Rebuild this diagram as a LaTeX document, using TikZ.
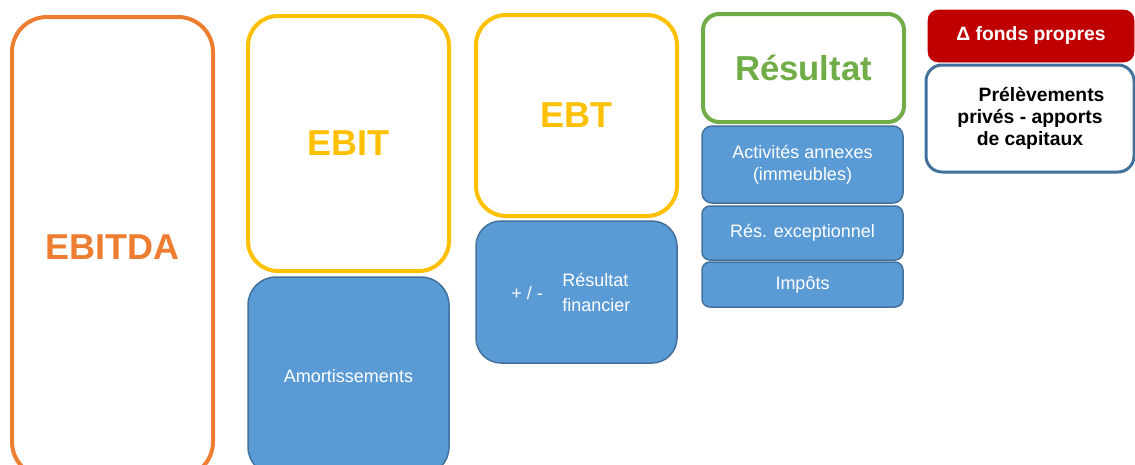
\documentclass[tikz,border=0pt]{standalone}
\usepackage{fontspec}
\setmainfont{Liberation Sans}
\newdimen\px \px=0.75pt
\definecolor{orangeline}{HTML}{ED7D31}
\definecolor{yellowline}{HTML}{FFC000}
\definecolor{greenline}{HTML}{70AD47}
\definecolor{bluefill}{HTML}{5B9BD5}
\definecolor{blueline}{HTML}{41719C}
\definecolor{redfill}{HTML}{C00000}

\begin{document}
\begin{tikzpicture}[x=0.75pt,y=-0.75pt,
    bigbox/.style={draw, line width=4\px, fill=white, inner sep=0pt,
      font=\fontsize{27}{30}\selectfont\bfseries},
    bluebox/.style={draw=blueline, line width=1.5\px, fill=bluefill, text=white,
      inner sep=0pt, font=\fontsize{13.5}{16.5}\selectfont},
    boxsize/.style 2 args={minimum width=#1\px, minimum height=#2\px}]
    %%%%% START %%%%%

    \useasboundingbox (0,0) rectangle (1135,464);
    \clip (0,0) rectangle (1135,464);

    % EBITDA
    \node[bigbox, draw=orangeline, text=orangeline, rounded corners=35\px,
      boxsize={201}{460}] (ebitda) at (112.5,247) {EBITDA};

    % EBIT
    \node[bigbox, draw=yellowline, text=yellowline, rounded corners=30\px,
      boxsize={201}{255}] (ebit) at (348.5,143.5) {EBIT};
    \node[bluebox, rounded corners=28\px, boxsize={201}{198}] (amort) at (348.5,376) {Amortissements};

    % EBT
    \node[bigbox, draw=yellowline, text=yellowline, rounded corners=30\px,
      boxsize={201}{201}] (ebt) at (576.5,115.5) {EBT};
    \node[bluebox, rounded corners=25\px, boxsize={201}{142}] (fin) at (576.5,292) {};
    \node[text=white, font=\fontsize{13.5}{16.5}\selectfont] (finsign) at (527,293) {+ / -};
    \node[anchor=west, text=white, align=left, inner sep=0pt,
      font=\fontsize{13.5}{18.75}\selectfont] (fintext) at (562,292) {Résultat\\financier};

    % Resultat
    \node[bigbox, draw=greenline, text=greenline, rounded corners=16\px,
      font=\fontsize{26}{30}\selectfont\bfseries, boxsize={201}{108}] (res) at (803.5,68) {Résultat};
    \node[bluebox, rounded corners=10\px, align=center, boxsize={201}{77}] (annexes) at (802.5,164.5)
      {Activités annexes\\(immeubles)};
    \node[bluebox, rounded corners=8\px, boxsize={201}{54}] (except) at (802.5,233) {Rés. exceptionnel};
    \node[bluebox, rounded corners=8\px, boxsize={201}{45}] (impots) at (802.5,284.5) {Impôts};

    % fonds propres
    \node[draw=redfill, fill=redfill, text=white, rounded corners=10\px, inner sep=0pt,
      font=\fontsize{14.5}{16}\selectfont\bfseries, boxsize={206}{52}] (delta) at (1031,36) {Δ fonds propres};
    \node[draw=blueline, line width=3\px, fill=white, rounded corners=16\px, inner sep=0pt,
      align=center, font=\fontsize{14.5}{16.3}\selectfont\bfseries, boxsize={208}{107}] (prel) at (1030,118.5)
      {\hspace{1.2em}Prélèvements\\privés - apports\\de capitaux};

    %%%%% END %%%%%
\end{tikzpicture}
\end{document}
